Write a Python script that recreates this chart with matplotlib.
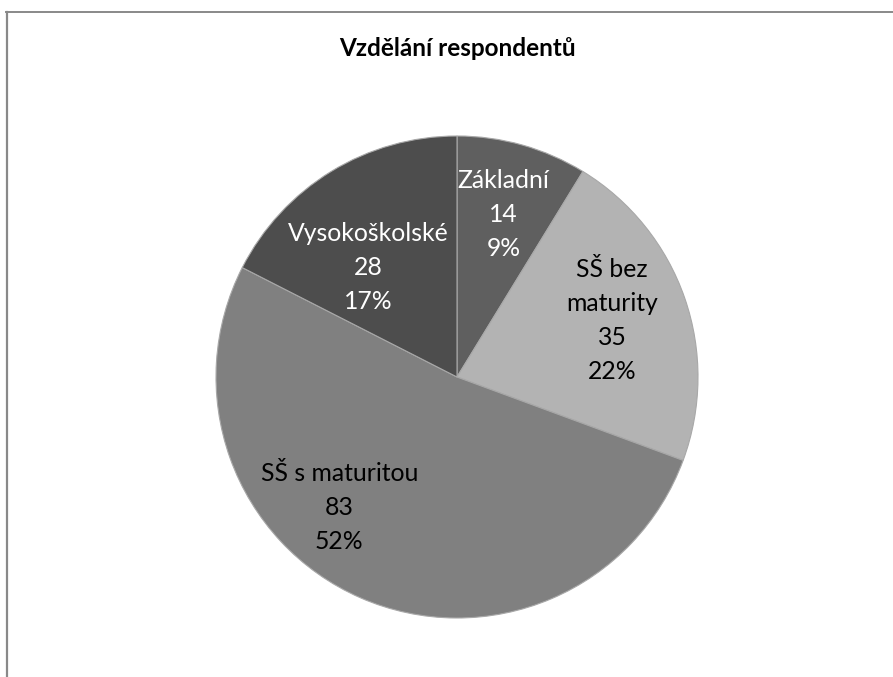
import matplotlib.pyplot as plt
import numpy as np
from matplotlib.lines import Line2D

categories = ["Základní", "SŠ bez\nmaturity", "SŠ s maturitou", "Vysokoškolské"]
values = [14, 35, 83, 28]
percent_labels = ["9%", "22%", "52%", "17%"]
colors = ["#5f5f5f", "#b3b3b3", "#808080", "#4d4d4d"]
text_colors = ["white", "black", "black", "white"]
# label placement (radius, angle in degrees) within the pie
label_pos = [(0.70, 74.0), (0.685, 20.0), (0.73, 228.0), (0.587, 129.0)]

plt.rcParams['font.family'] = ['Lato', 'DejaVu Sans']

fig = plt.figure(figsize=(8.93, 6.77), dpi=100)
W, H = 893, 677
cx, cy, r = 457, 377, 241
ax = fig.add_axes([(cx - r) / W, (H - cy - r) / H, 2 * r / W, 2 * r / H])
ax.pie(values, colors=colors, startangle=90, counterclock=False,
       wedgeprops=dict(edgecolor="#a8a8a8", linewidth=0.8))
ax.set_xlim(-1, 1)
ax.set_ylim(-1, 1)
ax.set_aspect('equal')
ax.axis('off')

for cat, v, p, tc, (rr, ang) in zip(categories, values, percent_labels, text_colors, label_pos):
    a = np.deg2rad(ang)
    ax.text(rr * np.cos(a), rr * np.sin(a), f"{cat}\n{v}\n{p}", ha='center', va='center',
            color=tc, fontsize=17.8, linespacing=1.58)

fig.text(cx / W, 1 - 48 / H, "Vzdělání respondentů", ha='center', va='center',
         fontsize=17.5, fontweight='bold', color='black')

fig.add_artist(Line2D([7 / W, 7 / W], [0, 1 - 11.5 / H], transform=fig.transFigure,
                      color="#898989", linewidth=1.6))
fig.add_artist(Line2D([6 / W, 1], [1 - 11.5 / H, 1 - 11.5 / H], transform=fig.transFigure,
                      color="#898989", linewidth=1.4))

fig.savefig("out.png", dpi=100)
